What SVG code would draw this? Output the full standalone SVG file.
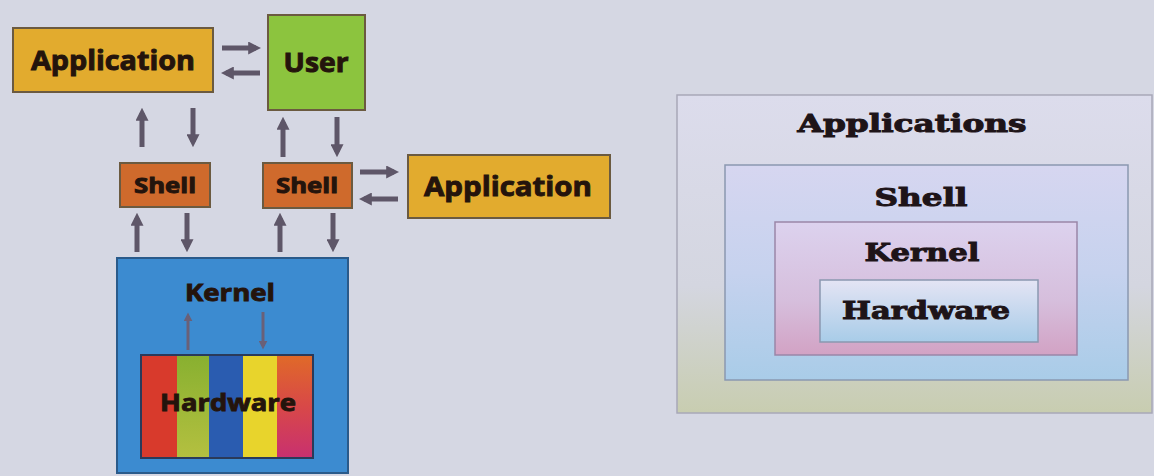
<svg xmlns="http://www.w3.org/2000/svg" width="1154" height="476" viewBox="0 0 1154 476">
<style>
.lbl{font-family:"Open Sans","Liberation Sans",sans-serif;font-weight:bold;fill:#24140c;stroke:#24140c;stroke-width:0.9;text-anchor:middle}
.ser{font-family:"DejaVu Serif","Liberation Serif",serif;font-weight:bold;fill:#1e1418;stroke:#1e1418;stroke-width:1;text-anchor:middle}
.box{stroke:#6b5a40;stroke-width:2}
.arr{stroke:#5e5668;stroke-width:5;fill:none;marker-end:url(#ah)}
.sarr{stroke:#6a6078;stroke-width:3;fill:none;marker-end:url(#ahs)}
</style>
<defs>
<marker id="ah" viewBox="0 0 10 10" refX="6" refY="5" markerWidth="2.6" markerHeight="2.6" orient="auto"><path d="M0,0 L10,5 L0,10 z" fill="#5e5668"/></marker>
<marker id="ahs" viewBox="0 0 10 10" refX="6" refY="5" markerWidth="3" markerHeight="3" orient="auto"><path d="M0,0 L10,5 L0,10 z" fill="#6a6078"/></marker>
<linearGradient id="gOut" x1="0" y1="0" x2="0" y2="1"><stop offset="0" stop-color="#dcdcec"/><stop offset="0.6" stop-color="#d4d6e0"/><stop offset="1" stop-color="#c8cdb0"/></linearGradient>
<linearGradient id="gShell" x1="0" y1="0" x2="0" y2="1"><stop offset="0" stop-color="#d6d6f0"/><stop offset="0.5" stop-color="#c6d2ee"/><stop offset="1" stop-color="#a9cce8"/></linearGradient>
<linearGradient id="gKern" x1="0" y1="0" x2="0" y2="1"><stop offset="0" stop-color="#dcd2ee"/><stop offset="0.6" stop-color="#d6bedc"/><stop offset="1" stop-color="#d2a2c4"/></linearGradient>
<linearGradient id="gHw" x1="0" y1="0" x2="0" y2="1"><stop offset="0" stop-color="#e4e4f4"/><stop offset="1" stop-color="#a8cce8"/></linearGradient>
<linearGradient id="gGreen" x1="0" y1="0" x2="0" y2="1"><stop offset="0" stop-color="#88b030"/><stop offset="1" stop-color="#b4c040"/></linearGradient>
<linearGradient id="gOr" x1="0" y1="0" x2="0" y2="1"><stop offset="0" stop-color="#e06a28"/><stop offset="0.5" stop-color="#d84848"/><stop offset="1" stop-color="#c83070"/></linearGradient>
</defs>
<rect width="1154" height="476" fill="#d5d7e3"/>

<g id="app1"><rect class="box" x="13" y="28" width="200" height="64" fill="#e2ab2e"/><text class="lbl" x="113" y="70" font-size="26" textLength="164" lengthAdjust="spacingAndGlyphs">Application</text></g>
<g id="user"><rect class="box" x="268" y="15" width="97" height="95" fill="#8cc43e"/><text class="lbl" x="316" y="72" font-size="26" textLength="65" lengthAdjust="spacingAndGlyphs">User</text></g>
<g id="shell1"><rect class="box" x="120" y="163" width="90" height="44" fill="#cf6a2c"/><text class="lbl" x="165" y="193" font-size="21" textLength="62" lengthAdjust="spacingAndGlyphs">Shell</text></g>
<g id="shell2"><rect class="box" x="263" y="163" width="89" height="45" fill="#cf6a2c"/><text class="lbl" x="307" y="193" font-size="21" textLength="62" lengthAdjust="spacingAndGlyphs">Shell</text></g>
<g id="app2"><rect class="box" x="408" y="155" width="202" height="63" fill="#e2ab2e"/><text class="lbl" x="508" y="196" font-size="26" textLength="168" lengthAdjust="spacingAndGlyphs">Application</text></g>
<g id="kernel"><rect x="117" y="258" width="231" height="215" fill="#3c8bd0" stroke="#2a5a8a" stroke-width="2"/><text class="lbl" x="230" y="301" font-size="23" textLength="90" lengthAdjust="spacingAndGlyphs">Kernel</text></g>
<g id="hardware">
<rect x="141" y="355" width="36" height="103" fill="#d83a2c"/>
<rect x="177" y="355" width="32" height="103" fill="url(#gGreen)"/>
<rect x="209" y="355" width="34" height="103" fill="#2a5cb0"/>
<rect x="243" y="355" width="34" height="103" fill="#e8d42c"/>
<rect x="277" y="355" width="36" height="103" fill="url(#gOr)"/>
<rect x="141" y="355" width="172" height="103" fill="none" stroke="#2a3a5a" stroke-width="2"/>
<text class="lbl" x="228" y="411" font-size="24" textLength="136" lengthAdjust="spacingAndGlyphs">Hardware</text></g>

<g id="connectors">
<line class="arr" x1="222" y1="48" x2="256" y2="48"/>
<line class="arr" x1="260" y1="73" x2="226" y2="73"/>
<line class="arr" x1="142" y1="147" x2="142" y2="113"/>
<line class="arr" x1="193" y1="108" x2="193" y2="142"/>
<line class="arr" x1="283" y1="157" x2="283" y2="122"/>
<line class="arr" x1="337" y1="117" x2="337" y2="152"/>
<line class="arr" x1="360" y1="172" x2="394" y2="172"/>
<line class="arr" x1="398" y1="199" x2="364" y2="199"/>
<line class="arr" x1="137" y1="252" x2="137" y2="218"/>
<line class="arr" x1="187" y1="213" x2="187" y2="247"/>
<line class="arr" x1="280" y1="252" x2="280" y2="218"/>
<line class="arr" x1="333" y1="213" x2="333" y2="247"/>
<line class="sarr" x1="188" y1="350" x2="188" y2="316"/>
<line class="sarr" x1="263" y1="312" x2="263" y2="346"/>
</g>

<g id="r-applications"><rect x="677" y="95" width="475" height="318" fill="url(#gOut)" stroke="#a8a8b8" stroke-width="1.5"/><text class="ser" x="912" y="132" font-size="25" textLength="229" lengthAdjust="spacingAndGlyphs">Applications</text></g>
<g id="r-shell"><rect x="725" y="165" width="403" height="215" fill="url(#gShell)" stroke="#8a98b0" stroke-width="1.5"/><text class="ser" x="921" y="206" font-size="25" textLength="93" lengthAdjust="spacingAndGlyphs">Shell</text></g>
<g id="r-kernel"><rect x="775" y="222" width="302" height="133" fill="url(#gKern)" stroke="#9a86a8" stroke-width="1.5"/><text class="ser" x="922" y="261" font-size="25" textLength="115" lengthAdjust="spacingAndGlyphs">Kernel</text></g>
<g id="r-hardware"><rect x="820" y="280" width="218" height="62" fill="url(#gHw)" stroke="#8a98b0" stroke-width="1.5"/><text class="ser" x="926" y="319" font-size="24" textLength="168" lengthAdjust="spacingAndGlyphs">Hardware</text></g>
</svg>
